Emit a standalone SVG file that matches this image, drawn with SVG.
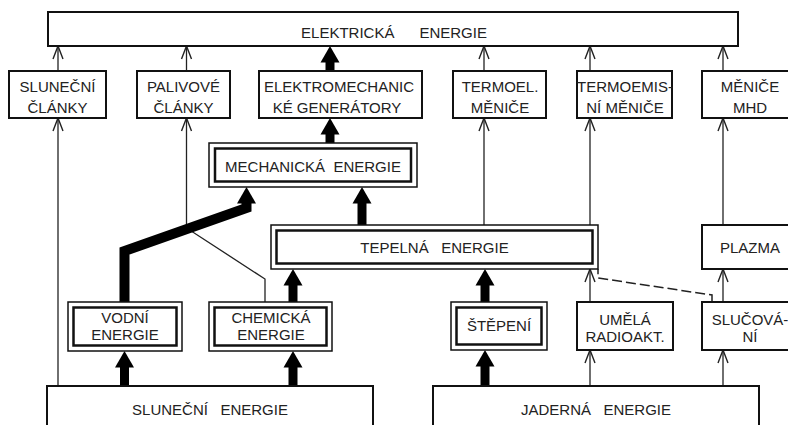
<svg xmlns="http://www.w3.org/2000/svg" width="788" height="425" viewBox="0 0 788 425">
<style>
  .box { fill: #fff; stroke: #111; stroke-width: 2; }
  .outer { fill: #fff; stroke: #111; stroke-width: 1.5; }
  .inner { fill: none; stroke: #111; stroke-width: 2.5; }
  .t { font-family: "Liberation Sans", Arial, sans-serif; font-size: 15px; fill: #222; text-anchor: middle; white-space: pre; }
  .thin { fill: none; stroke: #222; stroke-width: 1.3; marker-end: url(#open); }
  .thick { fill: none; stroke: #000; stroke-width: 9; stroke-linejoin: miter; marker-end: url(#solid); }
  .dash { fill: none; stroke: #222; stroke-width: 1.5; stroke-dasharray: 10 4; }
</style>
<defs>
  <marker id="open" markerUnits="userSpaceOnUse" markerWidth="20" markerHeight="20" refX="0" refY="0" orient="auto" overflow="visible">
    <path d="M-13,-5 L0,0 L-13,5" fill="none" stroke="#222" stroke-width="1.4"/>
  </marker>
  <marker id="solid" markerUnits="userSpaceOnUse" markerWidth="20" markerHeight="20" refX="0" refY="0" orient="auto" overflow="visible">
    <path d="M-0.5,-9.5 L16,0 L-0.5,9.5 Z" fill="#000"/>
  </marker>
</defs>

<g id="connectors">
  <path class="thin" d="M58,386 L58,118"/>
  <path class="thin" d="M58,71 L58,46"/>
  <path class="thin" d="M265,302 L265,279 L186.5,228 L186.5,118"/>
  <path class="thin" d="M186.5,71 L186.5,46"/>
  <path class="thin" d="M484,225 L484,118"/>
  <path class="thin" d="M484,71 L484,46"/>
  <path class="thin" d="M590,225 L590,118"/>
  <path class="thin" d="M590,71 L590,46"/>
  <path class="thin" d="M723,225 L723,118"/>
  <path class="thin" d="M723,71 L723,46"/>
  <path class="thin" d="M590,386 L590,350"/>
  <path class="thin" d="M590,302 L590,269"/>
  <path class="thin" d="M723,386 L723,350"/>
  <path class="thin" d="M723,302 L723,269"/>
  <path class="dash" d="M712,302 L712,295 L598,278 L598,269"/>
  <path class="thick" d="M330,71 L330,62"/>
  <path class="thick" d="M330,143 L330,134"/>
  <path class="thick" d="M362,225 L362,203"/>
  <path class="thick" style="stroke-width:10" d="M124.5,302 L124.5,251 L246.5,208 L246.5,203"/>
  <path class="thick" d="M293,302 L293,285"/>
  <path class="thick" d="M124.5,386 L124.5,367"/>
  <path class="thick" d="M293,386 L293,367"/>
  <path class="thick" d="M485,302 L485,285"/>
  <path class="thick" d="M485,386 L485,366"/>
</g>

<g id="elektricka">
  <rect class="box" x="48" y="12" width="690" height="34"/>
  <text class="t" x="394" y="38">ELEKTRICKÁ      ENERGIE</text>
</g>

<g id="slunecni-clanky">
  <rect class="box" x="9" y="71" width="97" height="47"/>
  <text class="t" x="57.5" y="92">SLUNEČNÍ</text>
  <text class="t" x="57.5" y="113">ČLÁNKY</text>
</g>
<g id="palivove-clanky">
  <rect class="box" x="137" y="71" width="93" height="47"/>
  <text class="t" x="183.5" y="92">PALIVOVÉ</text>
  <text class="t" x="183.5" y="113">ČLÁNKY</text>
</g>
<g id="elektromech">
  <rect class="box" x="259" y="71" width="163" height="47"/>
  <text class="t" x="339" y="92">ELEKTROMECHANIC</text>
  <text class="t" x="337" y="113">KÉ GENERÁTORY</text>
</g>
<g id="termoel">
  <rect class="box" x="453" y="71" width="93" height="47"/>
  <text class="t" x="500" y="92">TERMOEL.</text>
  <text class="t" x="500" y="113">MĚNIČE</text>
</g>
<g id="termoemis">
  <rect class="box" x="577" y="71" width="95" height="47"/>
  <text class="t" x="625" y="92">TERMOEMIS-</text>
  <text class="t" x="625" y="113">NÍ MĚNIČE</text>
</g>
<g id="mhd">
  <rect class="box" x="702" y="71" width="98" height="47"/>
  <text class="t" x="750" y="92">MĚNIČE</text>
  <text class="t" x="750" y="113">MHD</text>
</g>

<g id="mechanicka">
  <rect class="outer" x="209" y="143" width="208" height="44"/>
  <rect class="inner" x="215" y="148.5" width="196" height="33"/>
  <text class="t" x="313" y="172">MECHANICKÁ  ENERGIE</text>
</g>

<g id="tepelna">
  <rect class="outer" x="271" y="225" width="327" height="44"/>
  <rect class="inner" x="276.5" y="230.5" width="316" height="33"/>
  <text class="t" x="434.5" y="253">TEPELNÁ   ENERGIE</text>
</g>

<g id="plazma">
  <rect class="box" x="702" y="225" width="98" height="44"/>
  <text class="t" x="750" y="253">PLAZMA</text>
</g>

<g id="vodni">
  <rect class="outer" x="68" y="302" width="114" height="49"/>
  <rect class="inner" x="73.5" y="307.5" width="103" height="38"/>
  <text class="t" x="125" y="323">VODNÍ</text>
  <text class="t" x="125" y="340">ENERGIE</text>
</g>
<g id="chemicka">
  <rect class="outer" x="209" y="302" width="123" height="49"/>
  <rect class="inner" x="214.5" y="307.5" width="112" height="38"/>
  <text class="t" x="271" y="323">CHEMICKÁ</text>
  <text class="t" x="271" y="340">ENERGIE</text>
</g>
<g id="stepeni">
  <rect class="outer" x="451" y="302" width="96" height="48"/>
  <rect class="inner" x="456.5" y="307.5" width="85" height="37"/>
  <text class="t" x="499" y="331">ŠTĚPENÍ</text>
</g>
<g id="umela">
  <rect class="box" x="577" y="302" width="96" height="48"/>
  <text class="t" x="625" y="325">UMĚLÁ</text>
  <text class="t" x="625" y="342">RADIOAKT.</text>
</g>
<g id="slucovani">
  <rect class="box" x="702" y="302" width="98" height="48"/>
  <text class="t" x="750" y="325">SLUČOVÁ-</text>
  <text class="t" x="750" y="342">NÍ</text>
</g>

<g id="slunecni">
  <rect class="box" x="47" y="386" width="326" height="50"/>
  <text class="t" x="210" y="415">SLUNEČNÍ   ENERGIE</text>
</g>
<g id="jaderna">
  <rect class="box" x="433" y="386" width="326" height="50"/>
  <text class="t" x="596" y="415">JADERNÁ   ENERGIE</text>
</g>
</svg>
